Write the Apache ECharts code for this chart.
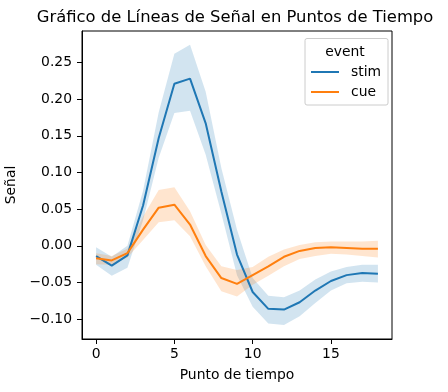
<!DOCTYPE html>
<html>
<head>
<meta charset="utf-8">
<script src="https://cdn.jsdelivr.net/npm/echarts@6/dist/echarts.min.js"></script>
<style>html,body{margin:0;padding:0;background:#fff}#c{width:448px;height:392px}</style>
</head>
<body>
<div id="c"></div>
<script>
var timepoints = [0,1,2,3,4,5,6,7,8,9,10,11,12,13,14,15,16,17,18];
var stimMean  = [-0.014,-0.027,-0.013,0.055,0.147,0.221,0.228,0.167,0.074,-0.012,-0.063,-0.086,-0.087,-0.077,-0.061,-0.048,-0.040,-0.037,-0.038];
var stimUpper = [-0.002,-0.015,0.000,0.075,0.182,0.262,0.274,0.210,0.106,0.022,-0.044,-0.068,-0.070,-0.061,-0.046,-0.035,-0.029,-0.026,-0.026];
var stimLower = [-0.026,-0.041,-0.030,0.035,0.120,0.181,0.184,0.124,0.044,-0.040,-0.083,-0.106,-0.108,-0.096,-0.078,-0.061,-0.051,-0.049,-0.050];
var cueMean   = [-0.017,-0.020,-0.010,0.022,0.052,0.056,0.029,-0.014,-0.044,-0.052,-0.040,-0.028,-0.015,-0.007,-0.003,-0.002,-0.003,-0.004,-0.004];
var cueUpper  = [-0.010,-0.014,-0.004,0.040,0.076,0.080,0.047,0.001,-0.028,-0.033,-0.029,-0.015,-0.005,0.001,0.005,0.006,0.006,0.006,0.007];
var cueLower  = [-0.025,-0.026,-0.016,0.008,0.032,0.035,0.013,-0.028,-0.062,-0.069,-0.053,-0.041,-0.028,-0.018,-0.014,-0.011,-0.012,-0.014,-0.016];
var xTicks = [0,5,10,15];
var yTicks = [-0.10,-0.05,0.00,0.05,0.10,0.15,0.20,0.25];
var seriesNames = ['stim','cue'];

var FONT = 'DejaVu Sans';
var FS = 13.9;
var BLUE = '#1f77b4', ORANGE = '#ff7f0e';
function pairs(ys){ return timepoints.map(function(t,i){ return [t, ys[i]]; }); }
function bandSeries(name, lo, hi, color){
  var rows = timepoints.map(function(t,i){ return [t, lo[i], hi[i]]; });
  return {
    name: name+'_band', type:'custom', data: rows, silent:true, z:1, clip:true,
    encode:{x:0, y:[1,2]},
    renderItem: function(params, api){
      if (params.dataIndex !== 0) return null;
      var pts = [];
      for (var i = 0; i < rows.length; i++) pts.push(api.coord([rows[i][0], rows[i][2]]));
      for (var j = rows.length - 1; j >= 0; j--) pts.push(api.coord([rows[j][0], rows[j][1]]));
      return {type:'polygon', shape:{points: pts}, style:{fill: color, stroke:'none'}};
    }
  };
}
function lineSeries(name, ys, color){
  return {name:name, type:'line', data: pairs(ys), symbol:'none', color: color,
          lineStyle:{color: color, width:2}, z:2};
}
function fmt(v){ var s = Math.abs(v).toFixed(2); return (v < -1e-9 ? '\u2212' : '') + s; }

var chart = echarts.init(document.getElementById('c'), null, {renderer:'canvas'});
chart.setOption({
  animation:false,
  backgroundColor:'#fff',
  textStyle:{fontFamily:FONT},
  title:{text:'Gráfico de Líneas de Señal en Puntos de Tiempo', left:230, top:5, textAlign:'center',
         textStyle:{fontFamily:FONT, fontSize:16.4, fontWeight:'normal', color:'#000'}},
  grid:{left:82, right:56, top:31, bottom:53, outerBoundsMode:'none', containLabel:false,
        show:true, borderColor:'#000', borderWidth:1, backgroundColor:'transparent'},
  xAxis:{type:'value', min:-0.9, max:18.9, 
         name:'Punto de tiempo', nameLocation:'middle', nameGap:29,
         nameTextStyle:{fontFamily:FONT, fontSize:FS, color:'#000'},
         axisLine:{show:true, onZero:false, lineStyle:{color:'#000', width:1}}, splitLine:{show:false},
         axisTick:{show:true, length:5, lineStyle:{color:'#000'}, customValues: xTicks},
         axisLabel:{fontFamily:FONT, fontSize:FS, color:'#000', margin:8, customValues: xTicks, formatter: function(v){return String(v);}}},
  yAxis:{type:'value', min:-0.1271, max:0.2929,
         name:'Señal', nameLocation:'middle', nameGap:46, nameRotate:90,
         nameTextStyle:{fontFamily:FONT, fontSize:FS, color:'#000'},
         axisLine:{show:true, onZero:false, lineStyle:{color:'#000', width:1}}, splitLine:{show:false},
         axisTick:{show:true, length:5, lineStyle:{color:'#000'}, customValues: yTicks},
         axisLabel:{fontFamily:FONT, fontSize:FS, color:'#000', margin:10, customValues: yTicks, formatter: fmt}},
  legend:{data: seriesNames, orient:'vertical', left:311, top:62, padding:0, itemGap:0, itemWidth:28, itemHeight:2, icon:'rect',
          textStyle:{fontFamily:FONT, fontSize:FS, color:'#000', lineHeight:20, padding:[0,0,0,7]}, z:5},
  graphic:[
    {type:'rect', z:4, shape:{x:305, y:38.5, width:83, height:66.5, r:2}, style:{fill:'rgba(255,255,255,0.8)', stroke:'#cccccc', lineWidth:1}},
    {type:'text', z:5, x:345, y:52, style:{text:'event', font:FS + 'px "DejaVu Sans"', fill:'#000', align:'center', verticalAlign:'middle'}}
  ],
  series: [
    bandSeries('stim', stimLower, stimUpper, 'rgba(31,119,180,0.2)'),
    lineSeries('stim', stimMean, BLUE),
    bandSeries('cue', cueLower, cueUpper, 'rgba(255,127,14,0.2)'),
    lineSeries('cue', cueMean, ORANGE)
  ]
});
</script>
</body>
</html>
